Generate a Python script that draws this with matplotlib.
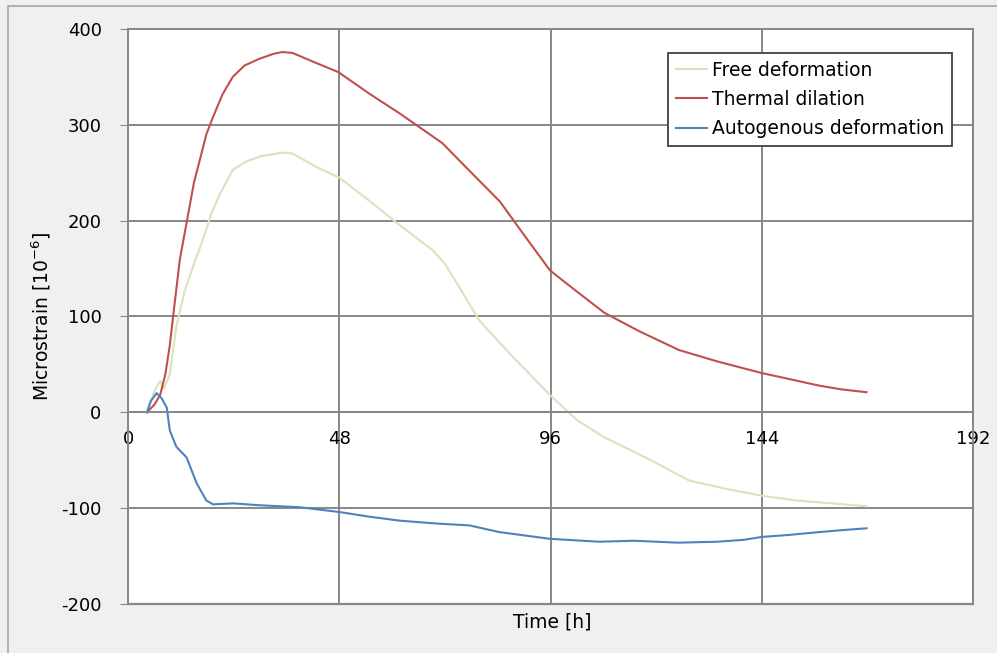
import numpy as np
import matplotlib.pyplot as plt
from matplotlib.patches import Rectangle

plt.rcParams['font.family'] = ['DejaVu Sans']
plt.rcParams['mathtext.default'] = 'regular'
plt.rcParams['axes.unicode_minus'] = False

# time [h] and strain [1e-6]
t_free = [4.3, 6.0, 7.3, 8.2, 9.5, 11.0, 12.9, 15.0, 17.0, 19.0, 20.9, 23.8, 27.0, 30.0, 35.1,
          37.4, 42.8, 48.0, 55.6, 61.8, 69.3, 72.0, 74.3, 79.8, 87.0, 95.9, 102.0, 108.2,
          118.0, 127.4, 136.0, 144.0, 152.0, 160.0, 167.8]
free = [0, 22, 33, 25, 40, 90, 127, 155, 180, 208, 228, 253, 262, 267, 271,
        270, 256, 245, 218, 195, 169, 155, 138, 96, 60, 18, -8, -26,
        -48, -71, -80, -87, -92, -95, -98]

t_thermal = [4.3, 6.0, 7.3, 8.5, 9.5, 10.5, 11.8, 13.4, 15.0, 16.3, 17.8, 19.3, 21.5, 23.8, 26.5,
             29.9, 33.0, 35.1, 37.4, 42.0, 47.8, 55.0, 61.7, 71.4, 77.6, 84.5, 90.0, 95.9,
             102.0, 108.2, 116.0, 125.2, 134.0, 144.0, 150.0, 156.9, 162.0, 167.8]
thermal = [0, 8, 18, 40, 70, 110, 160, 200, 240, 263, 290, 308, 332, 350, 362,
           369, 374, 376, 375, 366, 355, 332, 312, 281, 252, 220, 185, 148,
           126, 104, 85, 65, 53, 41, 35, 28, 24, 21]

t_auto = [4.3, 5.2, 6.5, 7.6, 8.8, 9.5, 11.0, 13.3, 15.6, 17.8, 19.3, 23.9, 30.0, 39.0,
          48.0, 55.0, 61.7, 70.0, 77.6, 84.4, 95.9, 107.0, 115.0, 125.0, 134.0, 140.0,
          144.0, 150.0, 157.0, 162.0, 167.8]
auto = [0, 12, 20, 15, 5, -19, -36, -47, -74, -92, -96, -95, -97, -99,
        -104, -109, -113, -116, -118, -125, -132, -135, -134, -136, -135, -133,
        -130, -128, -125, -123, -121]

xticks = [0, 48, 96, 144, 192]
yticks = [-200, -100, 0, 100, 200, 300, 400]

fig = plt.figure(figsize=(9.97, 6.53), dpi=100)
fig.patch.set_facecolor('#f0f0f0')
fig.patches.append(Rectangle((8 / 997, -0.01), 1.0, 1 - 6 / 653 + 0.01, transform=fig.transFigure,
                             fill=False, edgecolor='#a6a6a6', lw=1.2))

ax = fig.add_axes([128 / 997, 1 - 604 / 653, 845 / 997, 575 / 653])
ax.set_facecolor('white')

ax.plot(t_free, free, color='#d7e4bd', lw=1.5, label='Free deformation')
ax.plot(t_thermal, thermal, color='#c0504d', lw=1.5, label='Thermal dilation')
ax.plot(t_auto, auto, color='#4f81bd', lw=1.5, label='Autogenous deformation')

ax.set_xlim(0, 192)
ax.set_ylim(-200, 400)
ax.set_xticks(xticks)
ax.set_yticks(yticks)
ax.grid(True, color='#878787', lw=1.4)
ax.set_axisbelow(True)
ax.axhline(-200, color='#878787', lw=1.6, clip_on=False)

for s in ax.spines.values():
    s.set_color('#878787')
    s.set_linewidth(1.4)
ax.spines['bottom'].set_position(('data', 0))

ax.tick_params(axis='y', length=6, color='#878787', labelsize=13, pad=13)
ax.tick_params(axis='x', length=0, labelsize=13, pad=13)

ax.set_ylabel('Microstrain [10$^{-6}$]', fontsize=13.5)
ax.yaxis.set_label_coords(-0.089, 0.5)
fig.text(552 / 997, 1 - 622 / 653, 'Time [h]', ha='center', va='center', fontsize=13.5)

leg = ax.legend(loc='upper right', bbox_to_anchor=(0.975, 0.958), borderaxespad=0,
                fancybox=False, framealpha=1, edgecolor='#404040', fontsize=13.5,
                handlelength=1.7, handletextpad=0.25, borderpad=0.4, labelspacing=0.55)
leg.get_frame().set_linewidth(1.3)

fig.savefig('out.png', dpi=100, facecolor=fig.get_facecolor())
